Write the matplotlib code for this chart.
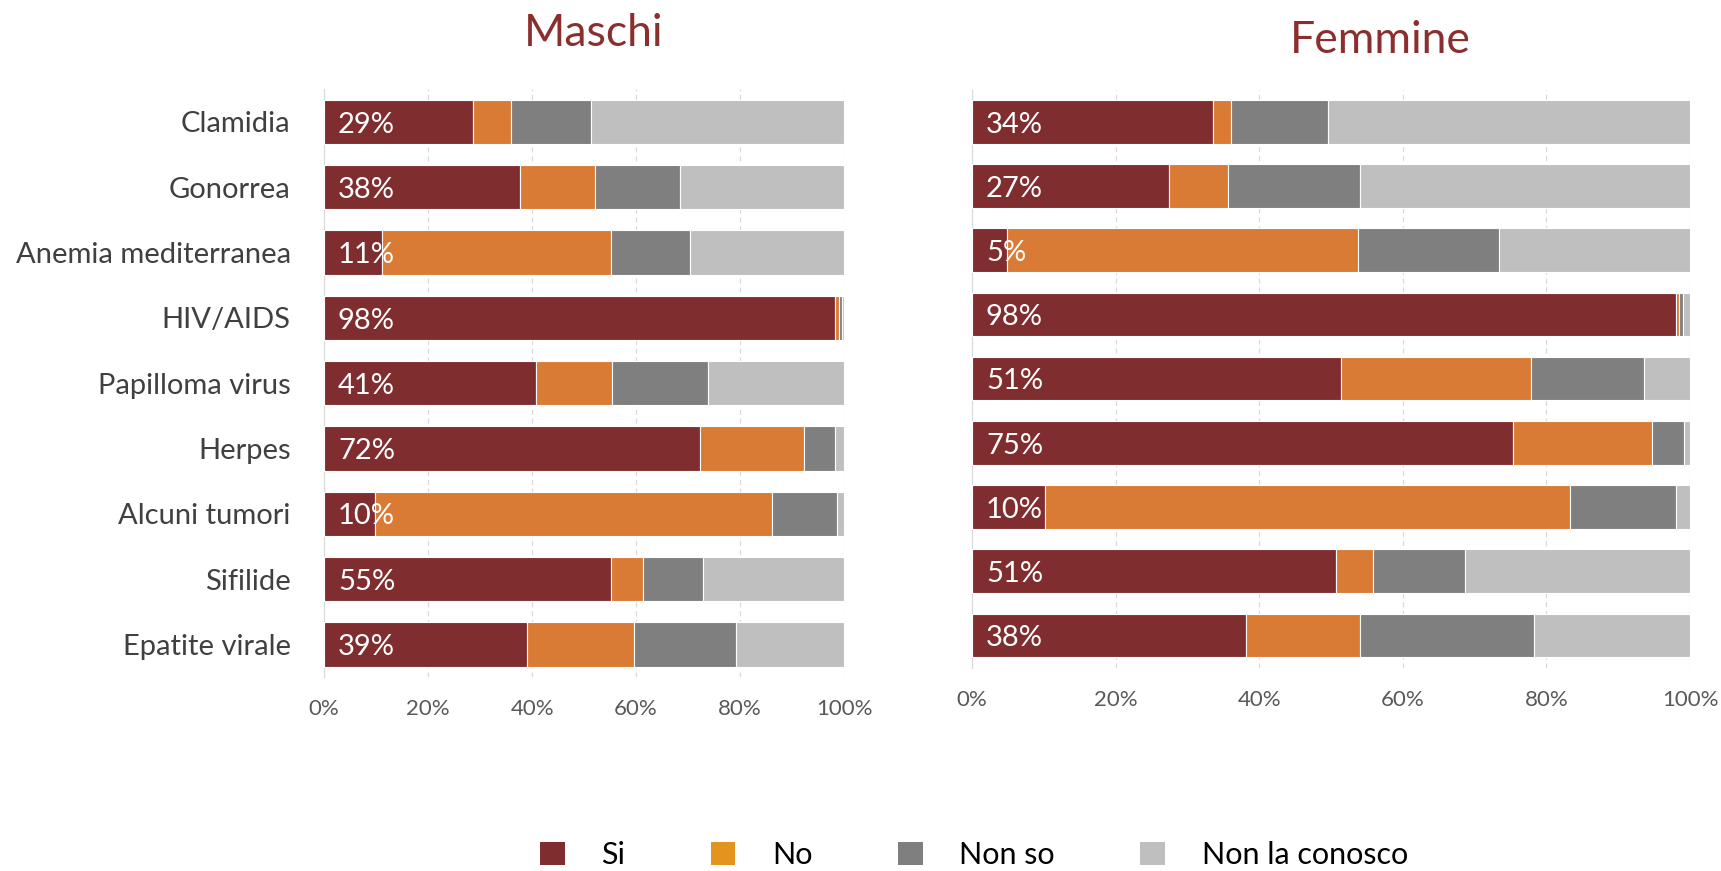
import matplotlib
matplotlib.use("Agg")
from matplotlib import pyplot as plt
from matplotlib.patches import Patch

plt.rcParams['font.family'] = ['Lato', 'DejaVu Sans']

malattie = ["Clamidia", "Gonorrea", "Anemia mediterranea", "HIV/AIDS", "Papilloma virus",
            "Herpes", "Alcuni tumori", "Sifilide", "Epatite virale"]
risposte = ["Si", "No", "Non so", "Non la conosco"]

# percentuali maschi
si_m = [28.6, 37.6, 11.1, 98.2, 40.8, 72.2, 9.7, 55.2, 39.1]
no_m = [7.4, 14.5, 44.1, 0.9, 14.5, 20.1, 76.4, 6.1, 20.5]
nonso_m = [15.3, 16.3, 15.1, 0.5, 18.6, 5.9, 12.5, 11.6, 19.6]
noncon_m = [48.7, 31.6, 29.7, 0.4, 26.1, 1.8, 1.4, 27.1, 20.8]

# percentuali femmine
si_f = [33.6, 27.4, 4.9, 98.0, 51.4, 75.3, 10.1, 50.7, 38.1]
no_f = [2.4, 8.3, 48.8, 0.4, 26.4, 19.4, 73.2, 5.1, 15.9]
nonso_f = [13.6, 18.3, 19.7, 0.6, 15.8, 4.5, 14.8, 12.9, 24.3]
noncon_f = [50.4, 46.0, 26.6, 1.0, 6.4, 0.8, 1.9, 31.3, 21.7]

colori = ["#7F2D2F", "#DA7B35", "#7F7F7F", "#BFBFBF"]
colori_legenda = ["#7F2D2F", "#E3941F", "#7F7F7F", "#BFBFBF"]
titolo_col = "#8A2E2E"

fig = plt.figure(figsize=(17.21, 8.71), dpi=100)
ax_m = fig.add_axes([0.1883, 0.2227, 0.3022, 0.675])
ax_f = fig.add_axes([0.5648, 0.2335, 0.4172, 0.6635])


def disegna(ax, serie, mostra_etichette):
    y = list(range(len(malattie)))
    left = [0] * len(malattie)
    for vals, col in zip(serie, colori):
        ax.barh(y, vals, left=left, height=0.68, color=col, edgecolor="white", linewidth=0.8, zorder=3)
        left = [l + v for l, v in zip(left, vals)]
    for i, v in enumerate(serie[0]):
        ax.annotate(f"{round(v)}%", xy=(0, i), xytext=(10, -2), textcoords="offset points",
                    ha="left", va="center", color="white", fontsize=21, zorder=4)
    ax.set_ylim(len(malattie) - 0.5, -0.5)
    ax.set_xlim(0, 100)
    ax.set_xticks([0, 20, 40, 60, 80, 100])
    ax.set_xticklabels(["0%", "20%", "40%", "60%", "80%", "100%"])
    ax.tick_params(axis="x", length=0, pad=16, labelsize=16, labelcolor="#595959")
    ax.set_yticks(y)
    if mostra_etichette:
        ax.set_yticklabels(malattie)
        ax.tick_params(axis="y", length=0, pad=24, labelsize=21, labelcolor="#404040")
    else:
        ax.set_yticklabels([])
        ax.tick_params(axis="y", length=0)
    for s in ["top", "right", "bottom"]:
        ax.spines[s].set_visible(False)
    ax.spines["left"].set_color("#D9D9D9")
    ax.grid(axis="x", linestyle=(0, (4, 3)), color="#D9D9D9", linewidth=0.9, zorder=0)
    ax.set_axisbelow(True)


disegna(ax_m, [si_m, no_m, nonso_m, noncon_m], True)
disegna(ax_f, [si_f, no_f, nonso_f, noncon_f], False)

fig.text(0.345, 0.962, "Maschi", ha="center", va="center", fontsize=32, color=titolo_col)
fig.text(0.802, 0.953, "Femmine", ha="center", va="center", fontsize=32, color=titolo_col)

maniglie = [Patch(facecolor=c, edgecolor="none") for c in colori_legenda]
fig.legend(maniglie, risposte, loc="center", bbox_to_anchor=(0.566, 0.018), ncol=4, frameon=False,
           fontsize=22, handlelength=0.8, handleheight=0.8, handletextpad=1.2, columnspacing=2.8)

fig.savefig("out.png", dpi=100)
